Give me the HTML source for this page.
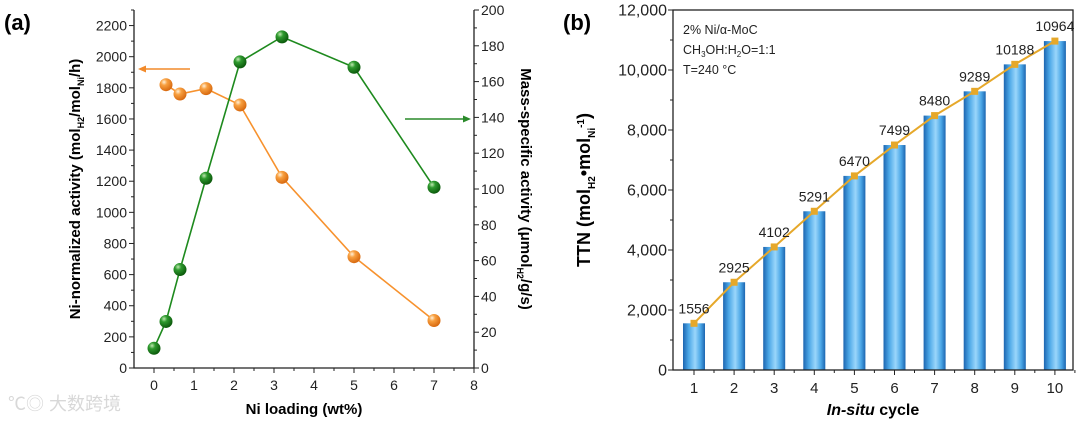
<!DOCTYPE html>
<html><head><meta charset="utf-8"><style>
body{margin:0;background:#fff;}
svg{display:block;font-family:"Liberation Sans",Arial,sans-serif;}
</style></head><body>
<svg id="s" width="1080" height="422" viewBox="0 0 1080 422">
<defs>
<linearGradient id="bg" x1="0" x2="1" y1="0" y2="0">
<stop offset="0" stop-color="#1c65b0"/><stop offset="0.25" stop-color="#4aa6e6"/><stop offset="0.55" stop-color="#9ad6fb"/><stop offset="0.8" stop-color="#4aa6e6"/><stop offset="1" stop-color="#1c65b0"/>
</linearGradient>
<radialGradient id="gg" cx="0.35" cy="0.3" r="0.7"><stop offset="0" stop-color="#bfe8b0"/><stop offset="0.35" stop-color="#2e9a2e"/><stop offset="1" stop-color="#0c5a0c"/></radialGradient>
<radialGradient id="og" cx="0.35" cy="0.3" r="0.7"><stop offset="0" stop-color="#fff0d8"/><stop offset="0.35" stop-color="#f8a040"/><stop offset="1" stop-color="#d86a10"/></radialGradient>
</defs>
<g id="a"></g><g id="b"></g>
</svg>
<script>
// Panel (a)
const loadX=[0,0.3,0.65,1.3,2.15,3.2,5,7];
const massAct=[11,26,55,106,171,185,168,101];
const loadXo=[0.3,0.65,1.3,2.15,3.2,5,7];
const niAct=[1820,1760,1795,1690,1225,715,305];
const xTicksA=[0,1,2,3,4,5,6,7,8];
const yTicksL=[0,200,400,600,800,1000,1200,1400,1600,1800,2000,2200];
const yTicksR=[0,20,40,60,80,100,120,140,160,180,200];
// Panel (b)
const cycles=[1,2,3,4,5,6,7,8,9,10];
const ttn=[1556,2925,4102,5291,6470,7499,8480,9289,10188,10964];
const yTicksB=[0,2000,4000,6000,8000,10000,12000];
const yTickLabB=["0","2,000","4,000","6,000","8,000","10,000","12,000"];

const NS="http://www.w3.org/2000/svg";
function mk(p,t,at,txt){const e=document.createElementNS(NS,t);for(const k in at)e.setAttribute(k,at[k]);if(txt!==undefined)e.textContent=txt;p.appendChild(e);return e;}
const A=document.getElementById('a'),B=document.getElementById('b');

const ax=v=>154+v*40, ayL=v=>368-v*(358/2300), ayR=v=>368-v*(358/200);
let e;
e=mk(A,'text',{x:4,y:30,'font-size':22,'font-weight':'bold'},'(a)');

e=mk(A,'path',{d:'M134,10V368H474V10',fill:'none',stroke:'#222','stroke-width':1.3});

xTicksA.forEach(t=>{mk(A,'line',{x1:ax(t),x2:ax(t),y1:368,y2:373,stroke:'#222'});
 if(t<8)mk(A,'line',{x1:ax(t+0.5),x2:ax(t+0.5),y1:368,y2:371,stroke:'#222'});
 e=mk(A,'text',{x:ax(t),y:390,'font-size':14,'text-anchor':'middle',fill:'#222'},t);
 });
yTicksL.forEach(t=>{mk(A,'line',{x1:129,x2:134,y1:ayL(t),y2:ayL(t),stroke:'#222'});
 mk(A,'line',{x1:131,x2:134,y1:ayL(t+100),y2:ayL(t+100),stroke:'#222'});
 e=mk(A,'text',{x:127,y:ayL(t)+5,'font-size':14,'text-anchor':'end',fill:'#222'},t);
 });
yTicksR.forEach(t=>{mk(A,'line',{x1:474,x2:479,y1:ayR(t),y2:ayR(t),stroke:'#222'});
 if(t<200)mk(A,'line',{x1:474,x2:477,y1:ayR(t+10),y2:ayR(t+10),stroke:'#222'});
 e=mk(A,'text',{x:481,y:ayR(t)+5,'font-size':14,fill:'#222'},t);
 });
e=mk(A,'text',{x:304,y:414,'font-size':15,'font-weight':'bold','text-anchor':'middle'},'Ni loading (wt%)');

e=mk(A,'text',{transform:'translate(80,189) rotate(-90)','font-size':15,'font-weight':'bold','text-anchor':'middle'});
e.innerHTML='Ni-normalized activity (mol<tspan font-size="9" dy="4">H2</tspan><tspan dy="-4">/mol</tspan><tspan font-size="9" dy="4">Ni</tspan><tspan dy="-4">/h)</tspan>';

e=mk(A,'text',{transform:'translate(521,189) rotate(90)','font-size':15,'font-weight':'bold','text-anchor':'middle'});
e.innerHTML='Mass-specific activity (μmol<tspan font-size="9" dy="4">H2</tspan><tspan dy="-4">/g/s)</tspan>';

e=mk(A,'path',{d:'M190,69H142',stroke:'#f28a2a','stroke-width':1.5,fill:'none'});

mk(A,'path',{d:'M138,69l8,-3.5v7z',fill:'#f28a2a'});
e=mk(A,'path',{d:'M405,119H465',stroke:'#2a8a2a','stroke-width':1.5,fill:'none'});

mk(A,'path',{d:'M471,119l-8,-3.5v7z',fill:'#2a8a2a'});
e=mk(A,'polyline',{points:loadXo.map((x,i)=>ax(x)+','+ayL(niAct[i])).join(' '),fill:'none',stroke:'#f7922e','stroke-width':1.6});

e=mk(A,'polyline',{points:loadX.map((x,i)=>ax(x)+','+ayR(massAct[i])).join(' '),fill:'none',stroke:'#1e8a1e','stroke-width':1.6});

loadXo.forEach((x,i)=>{e=mk(A,'circle',{cx:ax(x),cy:ayL(niAct[i]),r:6.5,fill:'url(#og)'});
 });
loadX.forEach((x,i)=>{e=mk(A,'circle',{cx:ax(x),cy:ayR(massAct[i]),r:6.5,fill:'url(#gg)'});
 });
e=mk(A,'text',{x:8,y:410,'font-size':18,fill:'#d8d8d8','font-family':'"Liberation Sans","Noto Sans CJK SC",sans-serif'},'℃◎ 大数跨境');


const bx=c=>694+(c-1)*40.1, by=v=>370-v*(360/12000);
e=mk(B,'text',{x:563,y:30,'font-size':22,'font-weight':'bold'},'(b)');

cycles.forEach((c,i)=>{e=mk(B,'rect',{x:bx(c)-11,y:by(ttn[i]),width:22,height:370-by(ttn[i]),fill:'url(#bg)'});
 });
e=mk(B,'polyline',{points:cycles.map((c,i)=>bx(c)+','+by(ttn[i])).join(' '),fill:'none',stroke:'#e6a82a','stroke-width':2});

cycles.forEach((c,i)=>{e=mk(B,'rect',{x:bx(c)-3.5,y:by(ttn[i])-3.5,width:7,height:7,fill:'#e6a82a'});
 
 e=mk(B,'text',{x:bx(c),y:by(ttn[i])-10,'font-size':14,'text-anchor':'middle',fill:'#222'},ttn[i]);
 });
e=mk(B,'rect',{x:673,y:10,width:400,height:360,fill:'none',stroke:'#222','stroke-width':1.3});

cycles.forEach(c=>{mk(B,'line',{x1:bx(c),x2:bx(c),y1:370,y2:375,stroke:'#222'});
 mk(B,'line',{x1:bx(c)+20,x2:bx(c)+20,y1:370,y2:373,stroke:'#222'});
 e=mk(B,'text',{x:bx(c),y:393,'font-size':15,'text-anchor':'middle',fill:'#222'},c);
 });
yTicksB.forEach((t,i)=>{mk(B,'line',{x1:668,x2:673,y1:by(t),y2:by(t),stroke:'#222'});
 if(t<12000)mk(B,'line',{x1:670,x2:673,y1:by(t+1000),y2:by(t+1000),stroke:'#222'});
 e=mk(B,'text',{x:667,y:by(t)+5.5,'font-size':16,'text-anchor':'end',fill:'#222'},yTickLabB[i]);
 });
e=mk(B,'text',{x:873,y:415,'font-size':16,'font-weight':'bold','text-anchor':'middle'});
e.innerHTML='<tspan font-style="italic">In-situ</tspan> cycle';

e=mk(B,'text',{transform:'translate(590,190) rotate(-90)','font-size':18,'font-weight':'bold','text-anchor':'middle'});
e.innerHTML='TTN (mol<tspan font-size="10" dy="5">H2</tspan><tspan dy="-5">•mol</tspan><tspan font-size="10" dy="5">Ni</tspan><tspan font-size="10" dy="-11">-1</tspan><tspan dy="6">)</tspan>';

e=mk(B,'text',{x:683,y:34,'font-size':12.5,fill:'#222'},'2% Ni/α-MoC');

e=mk(B,'text',{x:683,y:54,'font-size':12.5,fill:'#222'});
e.innerHTML='CH<tspan font-size="8" dy="3">3</tspan><tspan dy="-3">OH:H</tspan><tspan font-size="8" dy="3">2</tspan><tspan dy="-3">O=1:1</tspan>';

e=mk(B,'text',{x:683,y:74,'font-size':12.5,fill:'#222'},'T=240 °C');

</script>
</body></html>
